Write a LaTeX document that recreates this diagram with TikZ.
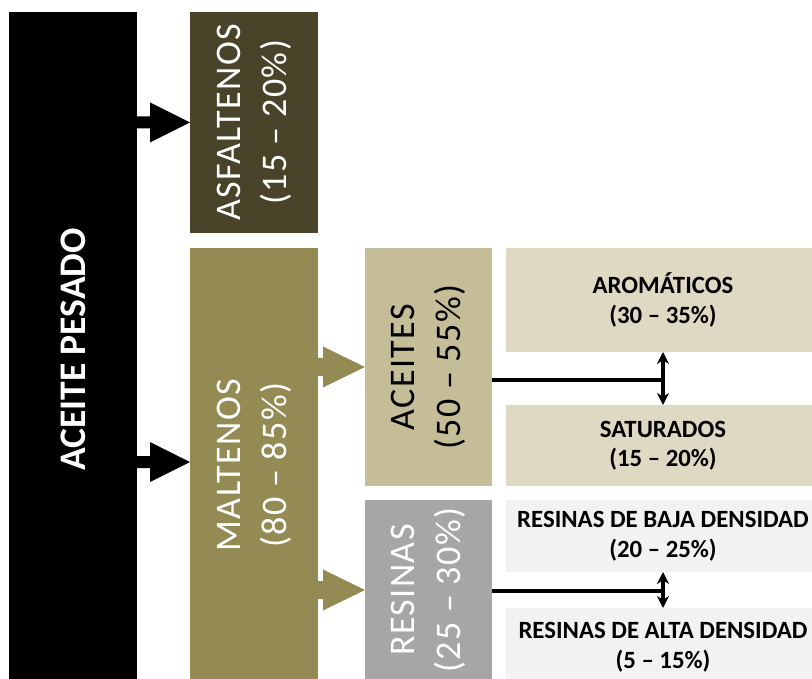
\documentclass[tikz,border=0pt]{standalone}
\usepackage{fontspec}
\setmainfont{Carlito}
\usetikzlibrary{calc,arrows.meta}
\definecolor{asfc}{HTML}{494429}
\definecolor{malc}{HTML}{948A54}
\definecolor{acec}{HTML}{C4BD97}
\definecolor{subc}{HTML}{DDD9C3}
\definecolor{resc}{HTML}{A6A6A6}
\definecolor{reslc}{HTML}{F2F2F2}
\tikzset{
  box/.style={draw=none, inner sep=0pt, outer sep=0pt, rectangle},
  vlabel/.style={rotate=90, align=center, inner sep=0pt, font=\addfontfeature{LetterSpace=4}\fontsize{36}{46}\selectfont},
  title/.style={rotate=90, align=center, inner sep=0pt, text=white, font=\bfseries\fontsize{37.5}{44}\selectfont},
  sublabel/.style={align=center, inner sep=0pt, font=\bfseries\fontsize{24.8}{29.5}\selectfont},
  conn/.style={line width=3.2pt, draw=black},
  dbl/.style={line width=3.2pt, draw=black, {Stealth[length=12pt,width=12pt]}-{Stealth[length=12pt,width=12pt]}}
}
\begin{document}
\begin{tikzpicture}[x=1pt,y=-1pt]
\useasboundingbox (0,0) rectangle (812,679);
\clip (0,0) rectangle (812,679);
% boxes
\node[box, fill=black, minimum width=128, minimum height=675] (pes) at (73,349.5) {};
\node[box, fill=asfc, minimum width=128, minimum height=221] (asf) at (254,122.5) {};
\node[box, fill=malc, minimum width=128, minimum height=434] (mal) at (254,465) {};
\node[box, fill=acec, minimum width=127, minimum height=238] (ace) at (428.5,367) {};
\node[box, fill=resc, minimum width=127, minimum height=180] (res) at (428.5,590) {};
\node[box, fill=subc, minimum width=314, minimum height=104] (aro) at (663,300) {};
\node[box, fill=subc, minimum width=314, minimum height=81] (sat) at (663,445.5) {};
\node[box, fill=reslc, minimum width=314, minimum height=72] (rbd) at (663,536) {};
\node[box, fill=reslc, minimum width=314, minimum height=78] (rad) at (663,647) {};
% labels
\node[title] (pesT) at (pes) {ACEITE PESADO};
\node[vlabel, text=white] (asfT) at (asf) {ASFALTENOS\\(15 – 20\%)};
\node[vlabel, text=white] (malT) at (mal) {MALTENOS\\(80 – 85\%)};
\node[vlabel, text=black] (aceT) at (ace) {ACEITES\\(50 – 55\%)};
\node[vlabel, text=white] (resT) at (res) {RESINAS\\(25 – 30\%)};
\node[sublabel] (aroT) at (aro) {AROMÁTICOS\\(30 – 35\%)};
\node[sublabel] (satT) at (sat) {SATURADOS\\(15 – 20\%)};
\node[sublabel] (rbdT) at (rbd) {RESINAS DE BAJA DENSIDAD\\(20 – 25\%)};
\node[sublabel] (radT) at (rad) {RESINAS DE ALTA DENSIDAD\\(5 – 15\%)};
% block arrows: black
\fill[black] ($(pes.east|-asf.west)+(-2,-6)$) -- ($(asf.west)+(-40,-6)$) -- ($(asf.west)+(-40,-20)$) -- (asf.west) -- ($(asf.west)+(-40,20)$) -- ($(asf.west)+(-40,6)$) -- ($(pes.east|-asf.west)+(-2,6)$) -- cycle;
\coordinate (malin) at ($(mal.west)+(0,-3)$);
\fill[black] ($(pes.east|-malin)+(-2,-6)$) -- ($(malin)+(-40,-6)$) -- ($(malin)+(-40,-20)$) -- (malin) -- ($(malin)+(-40,20)$) -- ($(malin)+(-40,6)$) -- ($(pes.east|-malin)+(-2,6)$) -- cycle;
% block arrows: olive
\fill[malc] ($(mal.east|-ace.west)+(-1,-9)$) -- ($(ace.west)+(-42,-9)$) -- ($(ace.west)+(-42,-20.5)$) -- (ace.west) -- ($(ace.west)+(-42,20.5)$) -- ($(ace.west)+(-42,9)$) -- ($(mal.east|-ace.west)+(-1,9)$) -- cycle;
\fill[malc] ($(mal.east|-res.west)+(-1,-9)$) -- ($(res.west)+(-42,-9)$) -- ($(res.west)+(-42,-20.5)$) -- (res.west) -- ($(res.west)+(-42,20.5)$) -- ($(res.west)+(-42,9)$) -- ($(mal.east|-res.west)+(-1,9)$) -- cycle;
% connectors
\coordinate (j1) at (663,380);
\coordinate (j2) at (663,591);
\draw[conn] (ace.east|-j1) -- (j1);
\draw[dbl] (aro.south) -- (sat.north);
\draw[conn] (res.east|-j2) -- (j2);
\draw[dbl] (rbd.south) -- (rad.north);
\end{tikzpicture}
\end{document}
